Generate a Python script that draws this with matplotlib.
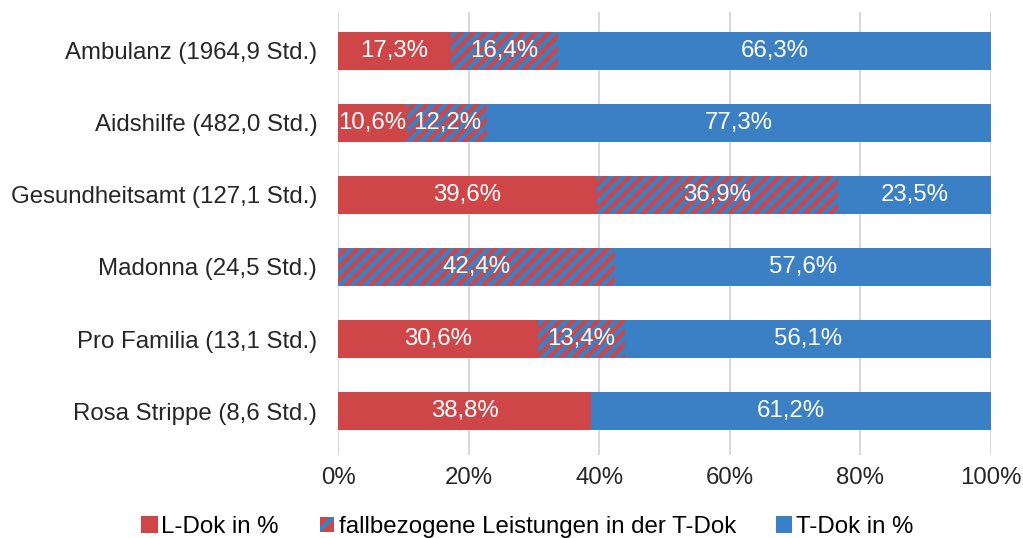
import matplotlib as mpl
mpl.use('Agg')
import matplotlib.pyplot as plt
import matplotlib.ticker as ticker
import matplotlib.patches as mpatches
import numpy as np
from matplotlib import rcParams

categories = ['Ambulanz (1964,9 Std.)', 'Aidshilfe (482,0 Std.)', 'Gesundheitsamt (127,1 Std.)',
              'Madonna (24,5 Std.)', 'Pro Familia (13,1 Std.)', 'Rosa Strippe (8,6 Std.)']
l_dok = [17.3, 10.6, 39.6, 0.0, 30.6, 38.8]
fall = [16.4, 12.2, 36.9, 42.4, 13.4, 0.0]
t_dok = [66.3, 77.3, 23.5, 57.6, 56.1, 61.2]
series_names = ['L-Dok in %', 'fallbezogene Leistungen in der T-Dok', 'T-Dok in %']
xticks = [0, 20, 40, 60, 80, 100]

RED = '#CF4648'
BLUE = '#3B7FC4'

rcParams['font.family'] = ['Liberation Sans', 'DejaVu Sans']
rcParams['hatch.linewidth'] = 2.2
rcParams['hatch.color'] = BLUE

DPI = 150
FS = 11.5
fig = plt.figure(figsize=(1023 / DPI, 538 / DPI), dpi=DPI)
ax = fig.add_axes([338 / 1023, 1 - 455 / 538, (991 - 338) / 1023, (455 - 12) / 538])

vals = np.array([l_dok, fall, t_dok], dtype=float)
vals = vals / vals.sum(axis=0) * 100
raw = np.array([l_dok, fall, t_dok])
y = np.arange(len(categories))
left = np.zeros(len(categories))
styles = [dict(color=RED), dict(facecolor=RED, edgecolor=BLUE, hatch='////', linewidth=0), dict(color=BLUE)]
for i in range(3):
    ax.barh(y, vals[i], left=left, height=0.52, zorder=3, **styles[i])
    for j in range(len(categories)):
        if raw[i, j] > 0:
            ax.text(left[j] + vals[i, j] / 2, y[j], ('%.1f%%' % raw[i, j]).replace('.', ','),
                    ha='center', va='center', color='white', fontsize=FS, zorder=4)
    left += vals[i]

ax.set_ylim(5.61, -0.54)
ax.set_xlim(0, 100)
ax.set_yticks(y)
ax.set_yticklabels(categories)
ax.set_xticks(xticks)
ax.xaxis.set_major_formatter(ticker.FuncFormatter(lambda x, p: '%d%%' % x))
ax.tick_params(axis='both', length=0, labelsize=FS, colors='#262626')
ax.tick_params(axis='x', pad=6)
ax.tick_params(axis='y', pad=10)
for s in ax.spines.values():
    s.set_visible(False)
ax.grid(axis='x', color='#D9D9D9', linewidth=1.0, zorder=0)
ax.set_axisbelow(True)

handles = [mpatches.Patch(color=RED, label=series_names[0]),
           mpatches.Patch(facecolor=RED, edgecolor=BLUE, hatch='//', linewidth=0, label=series_names[1]),
           mpatches.Patch(color=BLUE, label=series_names[2])]
fig.legend(handles=handles, loc='center', bbox_to_anchor=(0.516, 1 - 527 / 538), ncol=3, frameon=False,
           fontsize=FS, handlelength=0.6, handleheight=0.6, handletextpad=0.2, columnspacing=1.7)

plt.savefig('out.png', dpi=DPI)
